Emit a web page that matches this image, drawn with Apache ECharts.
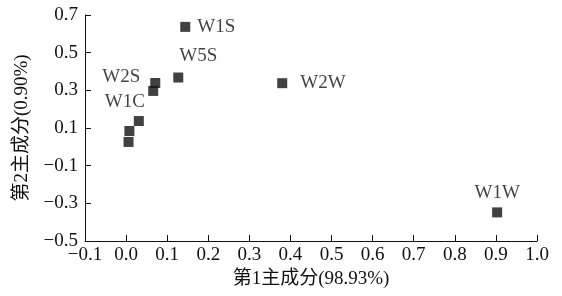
<!DOCTYPE html>
<html>
<head>
<meta charset="utf-8">
<script src="https://cdn.jsdelivr.net/npm/echarts@6/dist/echarts.min.js"></script>
<style>
  html, body { margin: 0; padding: 0; background: #fff; }
  #chart { width: 562px; height: 296px; }
</style>
</head>
<body>
<div id="chart"></div>
<script>
// sample scores on the first two principal components
const sampleNames = ['W1S', 'W5S', 'W2S', '', 'W1C', '', '', 'W2W', 'W1W'];
const pc1 = [0.144, 0.127, 0.071, 0.066, 0.031, 0.008, 0.006, 0.380, 0.903];
const pc2 = [0.637, 0.368, 0.339, 0.297, 0.137, 0.084, 0.026, 0.338, -0.348];

// where each label sits relative to its square
const labelPlace = {
    W1S: { position: 'right', distance: 7 },
    W5S: { position: 'top', offset: [20, -2] },
    W2S: { position: 'left', distance: 10, offset: [0, -6] },
    W1C: { position: 'top', offset: [-14, 0] },
    W2W: { position: 'right', distance: 13 },
    W1W: { position: 'top', distance: 5 },
};

const serif = "'Liberation Serif', 'Noto Sans CJK SC', serif";
const ink = '#111';
const minus = (v) => String(Number(v).toFixed(1)).replace('-', '\u2212');

const points = pc1.map((x, i) => {
    const name = sampleNames[i];
    const item = { name: name, value: [x, pc2[i]] };
    if (name) {
        item.label = Object.assign({ show: true }, labelPlace[name]);
    }
    return item;
});

const chart = echarts.init(document.getElementById('chart'), null, { renderer: 'canvas' });

const axisCommon = {
    axisLine: { onZero: false, lineStyle: { color: ink, width: 1 } },
    axisTick: { inside: true, length: 6, lineStyle: { color: ink } },
    splitLine: { show: false },
    nameLocation: 'middle',
    nameTextStyle: { fontFamily: serif, fontSize: 19, color: ink },
};

chart.setOption({
    animation: false,
    grid: { left: 85, right: 25, top: 15, bottom: 55 },
    xAxis: Object.assign({}, axisCommon, {
        type: 'value',
        min: -0.1,
        max: 1.0,
        interval: 0.1,
        name: '第1主成分(98.93%)',
        nameGap: 27,
        axisLabel: {
            margin: 5,
            fontFamily: serif,
            fontSize: 19,
            color: ink,
            formatter: minus,
        },
    }),
    yAxis: Object.assign({}, axisCommon, {
        type: 'value',
        min: -0.5,
        max: 0.7,
        interval: 0.2,
        name: '第2主成分(0.90%)',
        nameGap: 53,
        axisLabel: {
            margin: 7,
            fontFamily: serif,
            fontSize: 19,
            color: ink,
            formatter: minus,
        },
    }),
    series: [{
        type: 'scatter',
        symbol: 'rect',
        symbolSize: 10,
        itemStyle: { color: ink },
        label: {
            show: false,
            fontFamily: serif,
            fontSize: 19,
            color: ink,
            formatter: '{b}',
        },
        data: points,
    }],
});
</script>
</body>
</html>
